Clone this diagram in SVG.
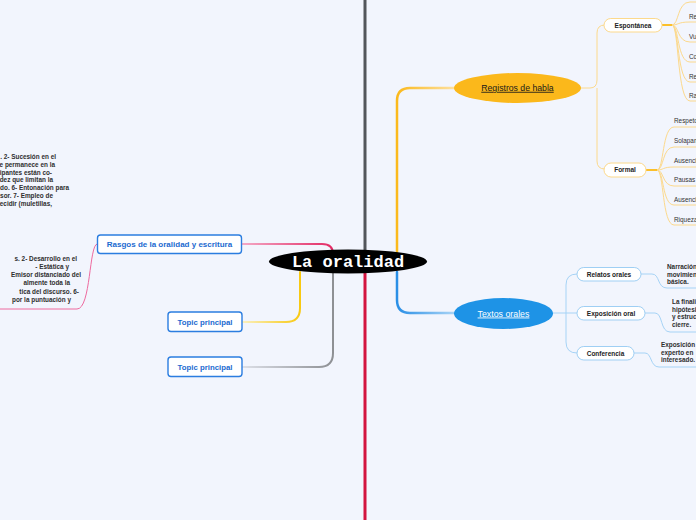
<svg xmlns="http://www.w3.org/2000/svg" width="696" height="520" viewBox="0 0 696 520">
<defs>
<style>
.blk{font-family:"Liberation Sans",Arial,sans-serif;font-size:6.4px;font-weight:bold;fill:#2e2e2e;text-anchor:end}
.leaf{font-family:"Liberation Sans",Arial,sans-serif;font-size:6.4px;fill:#333}
.leafb{font-family:"Liberation Sans",Arial,sans-serif;font-size:6.4px;font-weight:bold;fill:#2e2e2e}
.tbox{fill:#fff;stroke:#2b7de0;stroke-width:1.4}
.ttxt{font-family:"Liberation Sans",Arial,sans-serif;font-weight:bold;fill:#1b6ad0;text-anchor:middle}
.opill{fill:#fff;stroke:#fcd98c;stroke-width:1}
.bpill{fill:#fff;stroke:#9fcff4;stroke-width:1}
.ptxt{font-family:"Liberation Sans",Arial,sans-serif;font-weight:bold;font-size:6.5px;fill:#222;text-anchor:middle}
.c{fill:none;stroke-linecap:round}
.ob{fill:none;stroke:#fcd98c;stroke-width:1}
.bb{fill:none;stroke:#a6d3f6;stroke-width:1}
</style>
<linearGradient id="gPink" gradientUnits="userSpaceOnUse" x1="242" y1="0" x2="333" y2="0"><stop offset="0" stop-color="#f4a9c6"/><stop offset="1" stop-color="#e32a64"/></linearGradient>
<linearGradient id="gYel" gradientUnits="userSpaceOnUse" x1="242" y1="0" x2="300" y2="0"><stop offset="0" stop-color="#faf0c0"/><stop offset="1" stop-color="#f8c912"/></linearGradient>
<linearGradient id="gGry" gradientUnits="userSpaceOnUse" x1="242" y1="0" x2="333" y2="0"><stop offset="0" stop-color="#dde0e8"/><stop offset="1" stop-color="#8e9094"/></linearGradient>
<linearGradient id="gOra" gradientUnits="userSpaceOnUse" x1="397" y1="0" x2="455" y2="0"><stop offset="0" stop-color="#fbb91c"/><stop offset="1" stop-color="#fde0a0"/></linearGradient>
<linearGradient id="gBlu" gradientUnits="userSpaceOnUse" x1="397" y1="0" x2="455" y2="0"><stop offset="0" stop-color="#2a8fe6"/><stop offset="1" stop-color="#a9d4f6"/></linearGradient>
</defs>
<rect width="696" height="520" fill="#f2f5fd"/>

<g id="connectors">
  <path class="c" d="M365,0 V252" stroke="#53565b" stroke-width="3"/>
  <path class="c" d="M365,272 V520" stroke="#d3143f" stroke-width="3"/>
  <path class="c" d="M242,244 H322 Q333,244 333,254" stroke="url(#gPink)" stroke-width="2"/>
  <path class="c" d="M97,244 C89,244 91,309 77,309 H0" stroke="#ee6a9f" stroke-width="1"/>
  <path class="c" d="M242,322 H286 Q300,322 300,308 V272" stroke="url(#gYel)" stroke-width="2"/>
  <path class="c" d="M242,367 H319 Q333,367 333,353 V272" stroke="url(#gGry)" stroke-width="2"/>
  <path class="c" d="M397,252 V101 Q397,88 410,88 H455" stroke="url(#gOra)" stroke-width="2.5"/>
  <path class="c" d="M397,272 V300 Q397,313 410,313 H455" stroke="url(#gBlu)" stroke-width="2.5"/>
  <path class="ob" d="M580,88 H590 Q597,88 597,80 V33 Q597,25 605,25"/>
  <path class="ob" d="M597,88 V161 Q597,169 605,169"/>
  <path d="M662,25 H672" stroke="#fbbf2a" stroke-width="2"/>
  <path class="ob" d="M672,25 C679,25 677,2 690,2 H696"/>
  <path class="ob" d="M672,25 C679,25 677,22 690,22 H696"/>
  <path class="ob" d="M672,25 C679,25 677,42 690,42 H696"/>
  <path class="ob" d="M672,25 C679,25 677,62 690,62 H696"/>
  <path class="ob" d="M672,25 C679,25 677,82 690,82 H696"/>
  <path class="ob" d="M672,25 C679,25 677,101 690,101 H696"/>
  <path d="M646,170 H657" stroke="#fbbf2a" stroke-width="2"/>
  <path class="ob" d="M657,170 C664,170 662,127 674,127 H696"/>
  <path class="ob" d="M657,170 C664,170 662,147 674,147 H696"/>
  <path class="ob" d="M657,170 C664,170 662,167 674,167 H696"/>
  <path class="ob" d="M657,170 C664,170 662,186 674,186 H696"/>
  <path class="ob" d="M657,170 C664,170 662,205 674,205 H696"/>
  <path class="ob" d="M657,170 C664,170 662,225 674,225 H696"/>
  <path class="bb" d="M553,313 H577"/>
  <path class="bb" d="M577,274 Q566,274 566,285 V342 Q566,353 577,353"/>
  <path class="bb" d="M641,274 H652 C660,274 657,288 667,288 H696"/>
  <path class="bb" d="M645,313 H655 C663,313 660,332 670,332 H696"/>
  <path class="bb" d="M634,353 H645 C652,353 650,367 659,367 H696"/>
</g>

<g id="center">
  <ellipse cx="348" cy="261.5" rx="79" ry="12" fill="#000"/>
  <text x="348" y="266.5" font-family="'Liberation Mono','Courier New',monospace" font-weight="bold" font-size="17" fill="#fff" text-anchor="middle">La oralidad</text>
</g>

<g id="rasgos">
  <rect class="tbox" x="97.5" y="235" width="144" height="18.5" rx="3"/>
  <text class="ttxt" x="169.5" y="247.2" font-size="8">Rasgos de la oralidad y escritura</text>
</g>
<g id="rasgos-text-1">
  <text class="blk" x="56" y="159">. 2- Sucesión en el</text>
  <text class="blk" x="55" y="166.8">e permanece en la</text>
  <text class="blk" x="52" y="174.6">ipantes están co-</text>
  <text class="blk" x="53" y="182.4">dez que limitan la</text>
  <text class="blk" x="69" y="190.2">do. 6- Entonación para</text>
  <text class="blk" x="53" y="198">sor. 7- Empleo de</text>
  <text class="blk" x="52" y="205.8">decidir (muletillas,</text>
</g>
<g id="rasgos-text-2">
  <text class="blk" x="77" y="260.5">s. 2- Desarrollo en el</text>
  <text class="blk" x="69" y="268.8">- Estática y</text>
  <text class="blk" x="81" y="277.1">Emisor distanciado del</text>
  <text class="blk" x="70" y="285.4">almente toda la</text>
  <text class="blk" x="79" y="293.7">tica del discurso. 6-</text>
  <text class="blk" x="71" y="302">por la puntuación y</text>
</g>

<g id="topic1">
  <rect class="tbox" x="168" y="312" width="74" height="19.5" rx="3"/>
  <text class="ttxt" x="205" y="324.8" font-size="7.8">Topic principal</text>
</g>
<g id="topic2">
  <rect class="tbox" x="168" y="357" width="74" height="19.5" rx="3"/>
  <text class="ttxt" x="205" y="369.8" font-size="7.8">Topic principal</text>
</g>

<g id="registros">
  <ellipse cx="517.5" cy="88" rx="63.5" ry="15" fill="#fbb81b"/>
  <text x="517.5" y="90.8" font-family="'Liberation Sans',Arial,sans-serif" font-size="8.7" fill="#1a1a1a" text-anchor="middle" text-decoration="underline">Registros de habla</text>
</g>
<g id="espontanea">
  <rect class="opill" x="604" y="18.5" width="58" height="13.5" rx="6.75"/>
  <text class="ptxt" x="633" y="27.6" font-size="6.4">Espontánea</text>
</g>
<g id="esp-leaves">
  <text class="leaf" x="689" y="18.5">Re</text>
  <text class="leaf" x="689" y="38.5">Vu</text>
  <text class="leaf" x="689" y="58.5">Co</text>
  <text class="leaf" x="689" y="78.5">Re</text>
  <text class="leaf" x="689" y="97.5">Ra</text>
</g>
<g id="formal">
  <rect class="opill" x="604" y="163" width="42" height="14" rx="7"/>
  <text class="ptxt" x="625" y="172.4">Formal</text>
</g>
<g id="formal-leaves">
  <text class="leaf" x="674" y="123">Respeto</text>
  <text class="leaf" x="674" y="143">Solapam</text>
  <text class="leaf" x="674" y="163">Ausenci</text>
  <text class="leaf" x="674" y="182">Pausas a</text>
  <text class="leaf" x="674" y="201.5">Ausenci</text>
  <text class="leaf" x="674" y="221.5">Riqueza</text>
</g>

<g id="textos">
  <ellipse cx="503.5" cy="313.5" rx="49.5" ry="15.5" fill="#1e93e6"/>
  <text x="503.5" y="316.5" font-family="'Liberation Sans',Arial,sans-serif" font-size="8.8" fill="#fff" text-anchor="middle" text-decoration="underline">Textos orales</text>
</g>
<g id="relatos">
  <rect class="bpill" x="577" y="267.5" width="64" height="13.5" rx="6.75"/>
  <text class="ptxt" x="609" y="276.6">Relatos orales</text>
  <text class="leafb" x="667" y="269">Narración</text>
  <text class="leafb" x="667" y="276.5">movimien</text>
  <text class="leafb" x="667" y="284">básica.</text>
</g>
<g id="exposicion">
  <rect class="bpill" x="577" y="306.5" width="68" height="13.5" rx="6.75"/>
  <text class="ptxt" x="611" y="315.6">Exposición oral</text>
  <text class="leafb" x="672" y="304">La finali</text>
  <text class="leafb" x="672" y="311.5">hipótesi</text>
  <text class="leafb" x="672" y="319">y estruc</text>
  <text class="leafb" x="672" y="326.5">cierre.</text>
</g>
<g id="conferencia">
  <rect class="bpill" x="577" y="346.5" width="57" height="13.5" rx="6.75"/>
  <text class="ptxt" x="605.5" y="355.6">Conferencia</text>
  <text class="leafb" x="661" y="347">Exposición a</text>
  <text class="leafb" x="661" y="354.5">experto en</text>
  <text class="leafb" x="661" y="362">interesado.</text>
</g>
</svg>
